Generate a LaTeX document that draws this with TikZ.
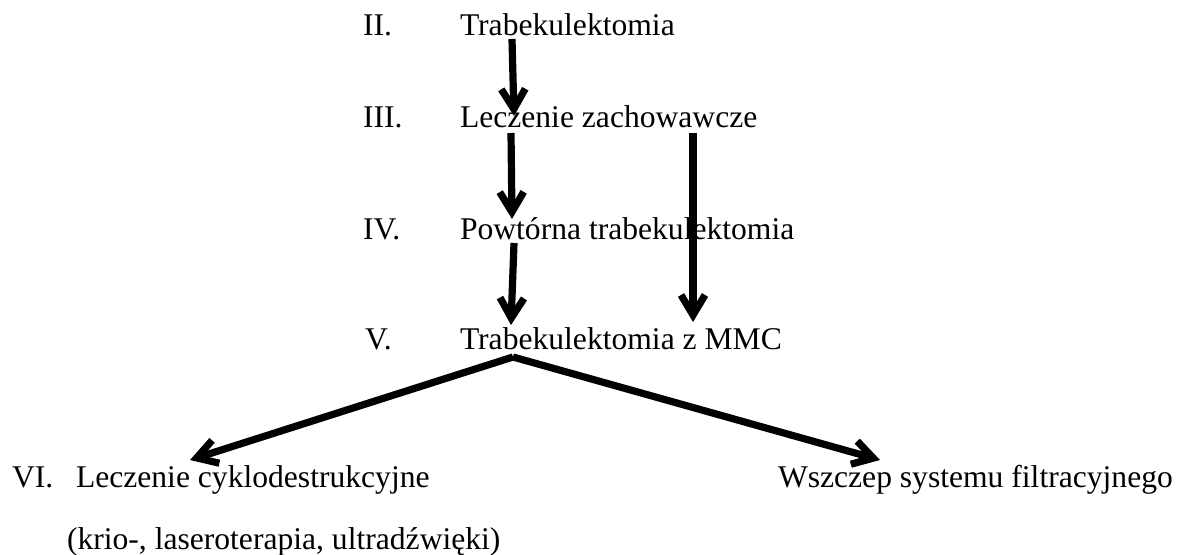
\documentclass[tikz,border=0pt]{standalone}
\usepackage{fontspec}
\setmainfont{Liberation Serif}
\usetikzlibrary{arrows.meta, calc}

\begin{document}
\begin{tikzpicture}[x=0.5pt, y=-0.5pt,
		txt/.style={anchor=base west, inner sep=0pt, outer sep=0pt},
		arr/.style={line width=3.6pt, -{Straight Barb[length=10pt, width=12pt]}},
		font=\fontsize{15.8}{19}\selectfont]
		% Bildbereich
		\useasboundingbox (0,0) rectangle (1179,555);
		% Stufen
		\node[txt] (numII)  at (363,36)  {II.};
		\node[txt] (trab)   at (460,36)  {Trabekulektomia};
		\node[txt] (numIII) at (363,128) {III.};
		\node[txt] (lecz)   at (460,128) {Leczenie zachowawcze};
		\node[txt] (numIV)  at (363,240) {IV.};
		\node[txt] (powt)   at (460,240) {Powtórna trabekulektomia};
		\node[txt] (numV)   at (365,350) {V.};
		\node[txt] (mmc)    at (460,350) {Trabekulektomia z MMC};
		\node[txt] (numVI)  at (12,488)  {VI.};
		\node[txt] (cyklo)  at (76,488)  {Leczenie cyklodestrukcyjne};
		\node[txt] (krio)   at (67,550)  {(krio-, laseroterapia, ultradźwięki)};
		\node[txt] (wszcz)  at (778,488) {Wszczep systemu filtracyjnego};
		% Pfeile
		\draw[arr] ($(trab.base west)+(52,3)$) -- ($(lecz.base west)+(54,-12)$);
		\draw[arr] ($(lecz.base west)+(51,5)$) -- ($(powt.base west)+(52,-21)$);
		\draw[arr] ($(lecz.base west)+(233,5)$) -- ($(mmc.base west)+(233,-28)$);
		\draw[arr] ($(powt.base west)+(54,3)$) -- ($(mmc.base west)+(51,-25)$);
		\coordinate (apex) at ($(mmc.base west)+(53,7)$);
		\draw[arr] (apex) -- ($(cyklo.base west)+(114,-28)$);
		\draw[arr] (apex) -- ($(wszcz.base west)+(102,-28)$);
	\end{tikzpicture}
\end{document}
